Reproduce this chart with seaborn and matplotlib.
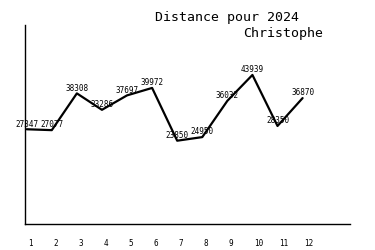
import matplotlib
matplotlib.use("Agg")
import matplotlib.pyplot as plt
import seaborn as sns
import pandas as pd

months = [1, 2, 3, 4, 5, 6, 7, 8, 9, 10, 11, 12]
distances = [27347, 27077, 38308, 33286, 37697, 39972, 23850, 24950, 36032, 43939, 28350, 36870]
tick_labels = ["1", "2", "3", "4", "5", "6", "7", "8", "9", "10", "11", "12"]
title_line1 = "Distance pour 2024"
title_line2 = "Christophe"

sns.set_theme(style="white")
plt.rcParams["font.family"] = ["DejaVu Sans Mono", "DejaVu Sans"]

df = pd.DataFrame({"mois": months, "distance": distances})

fig = plt.figure(figsize=(3.75, 2.5), dpi=100)
ax = fig.add_axes([25/375, 1 - 224/250, 325/375, 199/250])
sns.lineplot(data=df, x="mois", y="distance", ax=ax, color="black", linewidth=1.6)

for m, d in zip(months, distances):
    ax.annotate(str(d), (m, d), xytext=(0, 0.5), textcoords="offset points",
                ha="center", va="bottom", fontsize=5.5, color="black")

ax.set_xlim(0.932, 13.89)
ax.set_ylim(-1600, 59200)
ax.set_yticks([])
ax.set_xticks([])
ax.set_xlabel("")
ax.set_ylabel("")
for m, lab in zip(months, tick_labels):
    ax.text(m + 0.05, -0.1, lab, transform=ax.get_xaxis_transform(),
            ha="left", va="center", fontsize=5.5, color="black")

for s in ["top", "right"]:
    ax.spines[s].set_visible(False)
for s in ["left", "bottom"]:
    ax.spines[s].set_color("black")
    ax.spines[s].set_linewidth(1.0)

fig.text(155/375, 1 - 18/250, title_line1, ha="left", va="center", fontsize=9.5, color="black")
fig.text(323/375, 1 - 33/250, title_line2, ha="right", va="center", fontsize=9.5, color="black")

fig.savefig("out.png", dpi=100, facecolor="white")
